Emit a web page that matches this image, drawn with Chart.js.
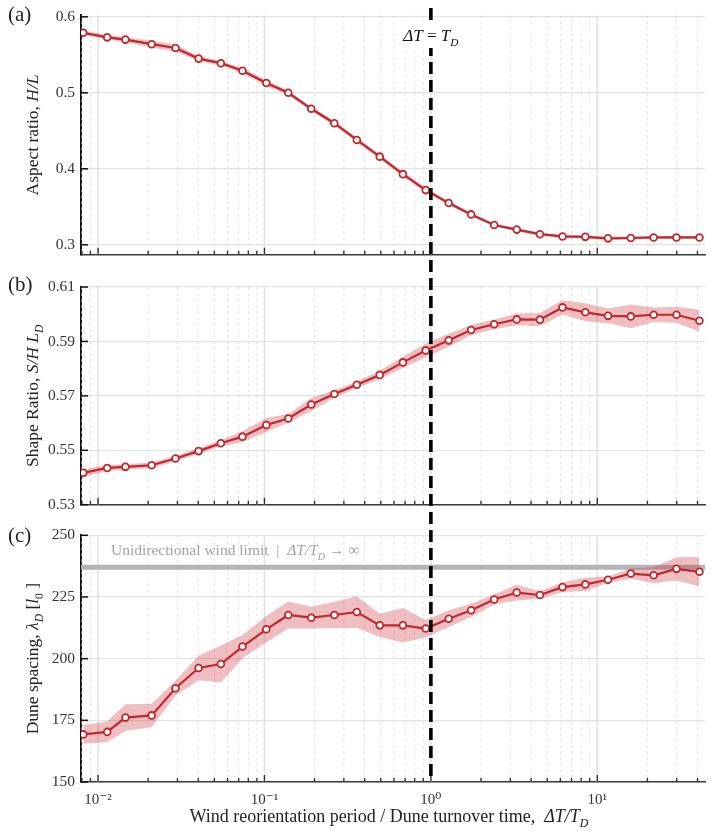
<!DOCTYPE html>
<html>
<head>
<meta charset="utf-8">
<script src="https://cdn.jsdelivr.net/npm/chart.js@4.4.1/dist/chart.umd.min.js"></script>
<style>
  body { margin: 0; background: #fff; }
  #wrap { position: relative; width: 711px; height: 831px; }
  canvas { position: absolute; left: 0; }
</style>
</head>
<body>
<div id="wrap">
  <canvas id="panelA" width="711" height="270" style="top:0"></canvas>
  <canvas id="panelB" width="711" height="250" style="top:270px"></canvas>
  <canvas id="panelC" width="711" height="311" style="top:520px"></canvas>
</div>
<script>
// wind reorientation period / dune turnover time
const periods = [0.00815, 0.01135, 0.0146, 0.0210, 0.0292, 0.0402, 0.0547, 0.0738, 0.1026, 0.139,
  0.191, 0.263, 0.359, 0.493, 0.679, 0.931, 1.28, 1.745, 2.40, 3.28,
  4.52, 6.18, 8.47, 11.6, 15.9, 21.8, 29.9, 41.1];

// (a) aspect ratio H/L
const aspect = [0.579, 0.573, 0.570, 0.564, 0.559, 0.545, 0.539, 0.529, 0.513, 0.500,
  0.479, 0.460, 0.438, 0.416, 0.393, 0.372, 0.355, 0.340, 0.326, 0.320,
  0.314, 0.311, 0.3105, 0.3085, 0.309, 0.3097, 0.3097, 0.3097];
const aspectErr = [0.003, 0.003, 0.003, 0.0045, 0.0045, 0.003, 0.003, 0.0035, 0.004, 0.003,
  0.003, 0.003, 0.003, 0.003, 0.003, 0.003, 0.0025, 0.002, 0.002, 0.002,
  0.002, 0.002, 0.002, 0.002, 0.002, 0.002, 0.002, 0.002];

// (b) shape ratio S/HL_D
const shape = [0.5417, 0.5435, 0.5439, 0.5445, 0.5470, 0.5497, 0.5526, 0.5550, 0.5593, 0.5617,
  0.5668, 0.5707, 0.5741, 0.5777, 0.5823, 0.5867, 0.5904, 0.5942, 0.5963, 0.5981,
  0.5980, 0.6025, 0.6007, 0.5994, 0.5992, 0.5998, 0.5998, 0.5976];
const shapeErr = [0.0012, 0.0012, 0.0010, 0.0010, 0.0010, 0.0010, 0.0012, 0.0020, 0.0026, 0.0016,
  0.0024, 0.0014, 0.0012, 0.0015, 0.0021, 0.0025, 0.0024, 0.0018, 0.0018, 0.0022,
  0.0024, 0.0026, 0.0033, 0.0027, 0.0044, 0.0027, 0.0029, 0.0040];

// (c) dune spacing lambda_D [l0]
const spacing = [169.3, 170.3, 176.1, 177.0, 188.0, 196.2, 197.8, 204.9, 211.9, 217.7,
  216.6, 217.7, 218.9, 213.5, 213.5, 212.2, 216.2, 219.6, 224.0, 226.8,
  225.8, 229.0, 230.1, 232.0, 234.5, 233.8, 236.4, 235.2];
const spacingErr = [3.8, 4.2, 5.4, 4.7, 3.0, 5.0, 7.5, 4.7, 5.4, 5.5,
  4.4, 5.4, 6.4, 4.7, 7.0, 3.5, 3.4, 2.7, 2.0, 3.2,
  1.5, 2.0, 2.7, 1.3, 2.0, 3.2, 4.7, 6.0];
const unidirectionalLimit = 237;
const turnover = 1;

// tick labels
const xDecades = [0.001, 0.01, 0.1, 1, 10];
const xLabels = { 0.01: '10\u207B\u00B2', 0.1: '10\u207B\u00B9', 1: '10\u2070', 10: '10\u00B9' };
const yTicksA = [0.3, 0.4, 0.5, 0.6];
const yTicksB = [0.53, 0.55, 0.57, 0.59, 0.61];
const yTicksC = [150, 175, 200, 225, 250];

const X_MIN = 0.0079, X_MAX = 44.5;
const RED = '#c1272d';
const BAND = 'rgba(200, 40, 50, 0.3)';
const SERIF = '"Liberation Serif", "DejaVu Serif", serif';

function fontFor(p, size) {
  const s = p.sub ? size * 0.66 : size;
  return (p.i ? 'italic ' : '') + s + 'px ' + SERIF;
}
function richWidth(ctx, parts, size) {
  let w = 0;
  parts.forEach(p => { ctx.font = fontFor(p, size); w += ctx.measureText(p.t).width; });
  return w;
}
function drawRich(ctx, parts, x, y, size, color, align) {
  const w = richWidth(ctx, parts, size);
  let cx = align === 'center' ? x - w / 2 : x;
  ctx.fillStyle = color;
  ctx.textAlign = 'left';
  ctx.textBaseline = 'alphabetic';
  parts.forEach(p => {
    ctx.font = fontFor(p, size);
    ctx.fillText(p.t, cx, y + (p.sub ? size * 0.3 : 0));
    cx += ctx.measureText(p.t).width;
  });
  return w;
}

// grille log, ticks vers l'interieur, ligne pointillee, textes
const decor = {
  id: 'decor',
  beforeDatasetsDraw(chart) {
    const { ctx, chartArea: a, scales: { x } } = chart;
    ctx.save();
    ctx.beginPath();
    ctx.rect(a.left, a.top, a.right - a.left, a.bottom - a.top);
    ctx.clip();
    xDecades.forEach(d => {
      for (let k = 2; k <= 9; k++) {
        const v = k * d;
        if (v < X_MIN || v > X_MAX) continue;
        const px = x.getPixelForValue(v);
        ctx.strokeStyle = '#dedede';
        ctx.lineWidth = 0.8;
        ctx.setLineDash([3, 3]);
        ctx.beginPath(); ctx.moveTo(px, a.top); ctx.lineTo(px, a.bottom); ctx.stroke();
      }
      if (d >= X_MIN && d <= X_MAX) {
        const px = x.getPixelForValue(d);
        ctx.strokeStyle = '#e2e2e2';
        ctx.lineWidth = 1.6;
        ctx.setLineDash([]);
        ctx.beginPath(); ctx.moveTo(px, a.top); ctx.lineTo(px, a.bottom); ctx.stroke();
      }
    });
    ctx.restore();
  },
  afterDatasetsDraw(chart, args, opts) {
    const { ctx, chartArea: a, scales: { x, y } } = chart;
    ctx.save();
    // ticks
    ctx.strokeStyle = '#333';
    ctx.lineWidth = 1.4;
    xDecades.forEach(d => {
      for (let k = 1; k <= 9; k++) {
        const v = k * d;
        if (v < X_MIN || v > X_MAX) continue;
        const px = x.getPixelForValue(v);
        const len = k === 1 ? 7 : 4;
        ctx.beginPath(); ctx.moveTo(px, a.bottom); ctx.lineTo(px, a.bottom - len); ctx.stroke();
      }
    });
    ctx.strokeStyle = '#111';
    ctx.lineWidth = 1.5;
    y.ticks.forEach(t => {
      const py = y.getPixelForValue(t.value);
      ctx.beginPath(); ctx.moveTo(a.left, py); ctx.lineTo(a.left + 7, py); ctx.stroke();
    });

    // DeltaT = T_D
    const lx = x.getPixelForValue(turnover);
    ctx.strokeStyle = '#000';
    ctx.lineWidth = 3.6;
    ctx.setLineDash([12, 6]);
    ctx.lineDashOffset = opts.dashOffset;
    ctx.beginPath();
    ctx.moveTo(lx, opts.lineTop);
    ctx.lineTo(lx, opts.lineBottom === 'area' ? a.bottom : chart.height);
    ctx.stroke();
    ctx.setLineDash([]);

    if (opts.marker) {
      const parts = [{ t: '\u0394T', i: true }, { t: ' = ' }, { t: 'T', i: true }, { t: 'D', i: true, sub: true }];
      const w = richWidth(ctx, parts, 17);
      ctx.fillStyle = '#fff';
      ctx.fillRect(lx - w / 2 - 2, 20, w + 4, 28);
      drawRich(ctx, parts, lx, 41, 17, '#111', 'center');
    }
    if (opts.limitLabel) {
      drawRich(ctx, [{ t: 'Unidirectional wind limit  |  ' }, { t: '\u0394T/T', i: true },
        { t: 'D', i: true, sub: true }, { t: ' \u2192 \u221E' }], 111, 35, 15.5, '#a3a3a3', 'left');
    }

    // panel label
    ctx.font = '21px ' + SERIF;
    ctx.fillStyle = '#222';
    ctx.textAlign = 'left';
    ctx.fillText(opts.panel, 8, opts.panelY);

    // y title
    ctx.save();
    ctx.translate(38, (a.top + a.bottom) / 2);
    ctx.rotate(-Math.PI / 2);
    drawRich(ctx, opts.yTitle, 0, 0, 17.5, '#222', 'center');
    ctx.restore();

    if (opts.xTitle) {
      drawRich(ctx, [{ t: 'Wind reorientation period / Dune turnover time,  ' }, { t: '\u0394T/T', i: true },
        { t: 'D', i: true, sub: true }], 389, 302, 18, '#222', 'center');
    }
    ctx.restore();
  }
};

function points(vals) {
  return vals.map((v, i) => ({ x: periods[i], y: v }));
}

function makePanel(id, cfg) {
  const datasets = [
    { data: points(cfg.vals.map((v, i) => v - cfg.err[i])), borderWidth: 0, borderColor: 'transparent',
      pointRadius: 0, fill: false, order: 2 },
    { data: points(cfg.vals.map((v, i) => v + cfg.err[i])), borderWidth: 0, borderColor: 'transparent',
      pointRadius: 0, fill: '-1', backgroundColor: BAND, order: 2 },
    { data: points(cfg.vals), borderColor: RED, borderWidth: 2.2, pointRadius: 3.4,
      pointBorderWidth: 1.8, pointBackgroundColor: '#fff', pointBorderColor: RED, fill: false, order: 1 }
  ];
  if (cfg.limit) {
    datasets.push({ data: [{ x: X_MIN, y: cfg.limit }, { x: X_MAX, y: cfg.limit }], borderColor: '#b4b4b4',
      borderWidth: 5, pointRadius: 0, fill: false, order: 3 });
  }
  return new Chart(document.getElementById(id).getContext('2d'), {
    type: 'line',
    data: { datasets },
    options: {
      responsive: false,
      animation: false,
      events: [],
      layout: { padding: { top: cfg.top, left: 0, right: 0, bottom: 0 } },
      plugins: { legend: { display: false }, tooltip: { enabled: false }, decor: cfg.decor },
      scales: {
        x: {
          type: 'logarithmic', min: X_MIN, max: X_MAX,
          afterBuildTicks: s => { s.ticks = xDecades.filter(v => v >= X_MIN && v <= X_MAX).map(v => ({ value: v })); },
          afterFit: s => { s.height = cfg.xHeight; s.paddingLeft = 0; s.paddingRight = 0; },
          grid: { display: false },
          border: { display: true, color: '#3a3a3a', width: 1.6 },
          ticks: {
            display: cfg.xLabels, autoSkip: false, maxRotation: 0, padding: 1,
            color: '#333', font: { family: SERIF, size: 15 },
            callback: v => xLabels[v] || ''
          }
        },
        y: {
          min: cfg.min, max: cfg.max,
          afterBuildTicks: s => { s.ticks = cfg.ticks.map(v => ({ value: v })); },
          afterFit: s => { s.width = 81; },
          grid: { color: '#e3e3e3', lineWidth: 1.2, drawTicks: false },
          border: { display: true, color: '#111', width: 2 },
          ticks: { padding: 6, color: '#333', font: { family: SERIF, size: 15.5 }, callback: v => String(v) }
        }
      }
    },
    plugins: [decor]
  });
}

makePanel('panelA', {
  vals: aspect, err: aspectErr, min: 0.287, max: 0.602, ticks: yTicksA,
  top: 7, xHeight: 13, xLabels: false,
  decor: { panel: '(a)', panelY: 21, dashOffset: 0, lineTop: 8, lineBottom: 'canvas', marker: true,
    yTitle: [{ t: 'Aspect ratio, ' }, { t: 'H/L', i: true }] }
});
makePanel('panelB', {
  vals: shape, err: shapeErr, min: 0.53, max: 0.61, ticks: yTicksB,
  top: 17, xHeight: 12, xLabels: false,
  decor: { panel: '(b)', panelY: 21, dashOffset: 262, lineTop: 0, lineBottom: 'canvas',
    yTitle: [{ t: 'Shape Ratio, ' }, { t: 'S/H L', i: true }, { t: 'D', i: true, sub: true }] }
});
makePanel('panelC', {
  vals: spacing, err: spacingErr, min: 150, max: 250, ticks: yTicksC, limit: unidirectionalLimit,
  top: 14, xHeight: 49, xLabels: true,
  decor: { panel: '(c)', panelY: 22, dashOffset: 512, lineTop: 0, lineBottom: 'area', limitLabel: true, xTitle: true,
    yTitle: [{ t: 'Dune spacing, ' }, { t: '\u03BB', i: true }, { t: 'D', i: true, sub: true },
      { t: ' [' }, { t: 'l', i: true }, { t: '0', sub: true }, { t: ' ]' }] }
});
</script>
</body>
</html>
